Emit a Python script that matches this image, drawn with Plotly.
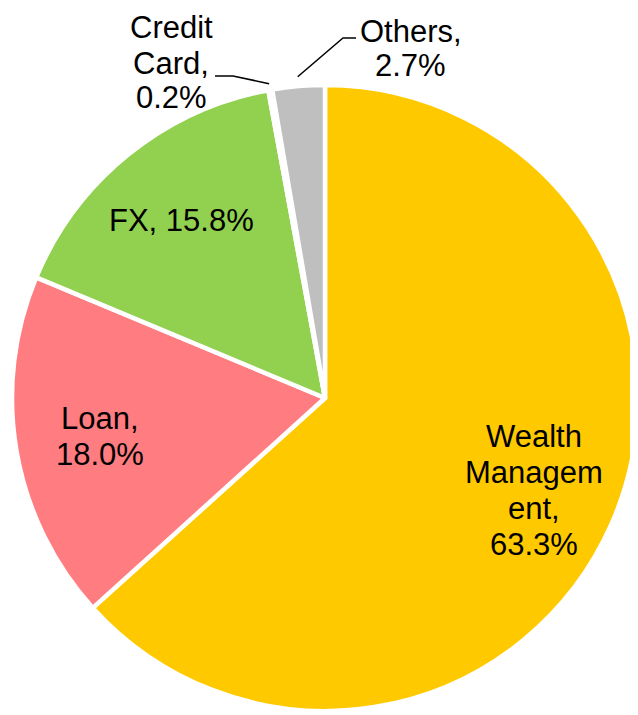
import math
import plotly.graph_objects as go

# ---- data ----
categories = ["Wealth Management", "Loan", "FX", "Credit Card", "Others"]
shares = [63.3, 18.0, 15.8, 0.2, 2.7]
label_lines = [
    ["Wealth", "Managem", "ent,", "63.3%"],
    ["Loan,", "18.0%"],
    ["FX, 15.8%"],
    ["Credit", "Card,", "0.2%"],
    ["Others,", "2.7%"],
]
colors = ["#FFC900", "#FF7C80", "#92D050", "#FFFFFF", "#BFBFBF"]

# ---- geometry (window pixels) ----
OFF = 8                      # default page body margin
WIN_W, WIN_H = 638, 715
W, H = WIN_W - OFF, WIN_H - OFF
R = 313
CX, CY = 325, 398
FONT = dict(family="Liberation Sans, Arial, sans-serif", size=31, color="black")
LINE_H = 36


def px(x, y):
    return (x - OFF) / W, 1 - (y - OFF) / H


x0, y1 = px(CX - R, CY - R)
x1, y0 = px(CX + R, CY + R)

fig = go.Figure(go.Pie(
    labels=categories,
    values=shares,
    sort=False,
    direction="clockwise",
    rotation=0,
    textinfo="none",
    hoverinfo="skip",
    marker=dict(colors=colors, line=dict(color="white", width=4.5)),
    domain=dict(x=[max(0, x0), min(1, x1)], y=[max(0, y0), min(1, y1)]),
    showlegend=False,
))

# mid angles (clockwise from 12 o'clock)
total = sum(shares)
mids = []
acc = 0.0
for v in shares:
    mids.append((acc + v / 2) / total * 2 * math.pi)
    acc += v


def on_ray(i, k):
    a = mids[i]
    return CX + k * R * math.sin(a), CY - k * R * math.cos(a)


annotations = []


def add_block(lines, cx, cy, spacing=LINE_H):
    n = len(lines)
    for j, t in enumerate(lines):
        y = cy + (j - (n - 1) / 2) * spacing
        xp, yp = px(cx, y)
        annotations.append(dict(text=t, x=xp, y=yp, xref="paper", yref="paper",
                                showarrow=False, font=FONT,
                                xanchor="center", yanchor="middle"))


# inside labels
for i in range(3):
    x, y = on_ray(i, 0.73)
    add_block(label_lines[i], x, y)

# outside labels with leader lines
add_block(label_lines[3], 171, 63, 35)
add_block(label_lines[4], 411, 48, 34)

shapes = []
ex, ey = on_ray(3, 1.02)
shapes.append(dict(type="path", xref="paper", yref="paper",
                   path="M {} {} L {} {} L {} {}".format(
                       *px(215, 76), *px(233, 76), *px(ex, ey)),
                   line=dict(color="black", width=1.5)))
ex, ey = on_ray(4, 1.03)
shapes.append(dict(type="path", xref="paper", yref="paper",
                   path="M {} {} L {} {} L {} {}".format(
                       *px(ex, ey), *px(343, 38), *px(356, 38)),
                   line=dict(color="black", width=1.5)))

fig.update_layout(
    width=W, height=H,
    margin=dict(l=0, r=0, t=0, b=0),
    paper_bgcolor="white", plot_bgcolor="white",
    annotations=annotations,
    shapes=shapes,
)

fig.write_html("out.html")
